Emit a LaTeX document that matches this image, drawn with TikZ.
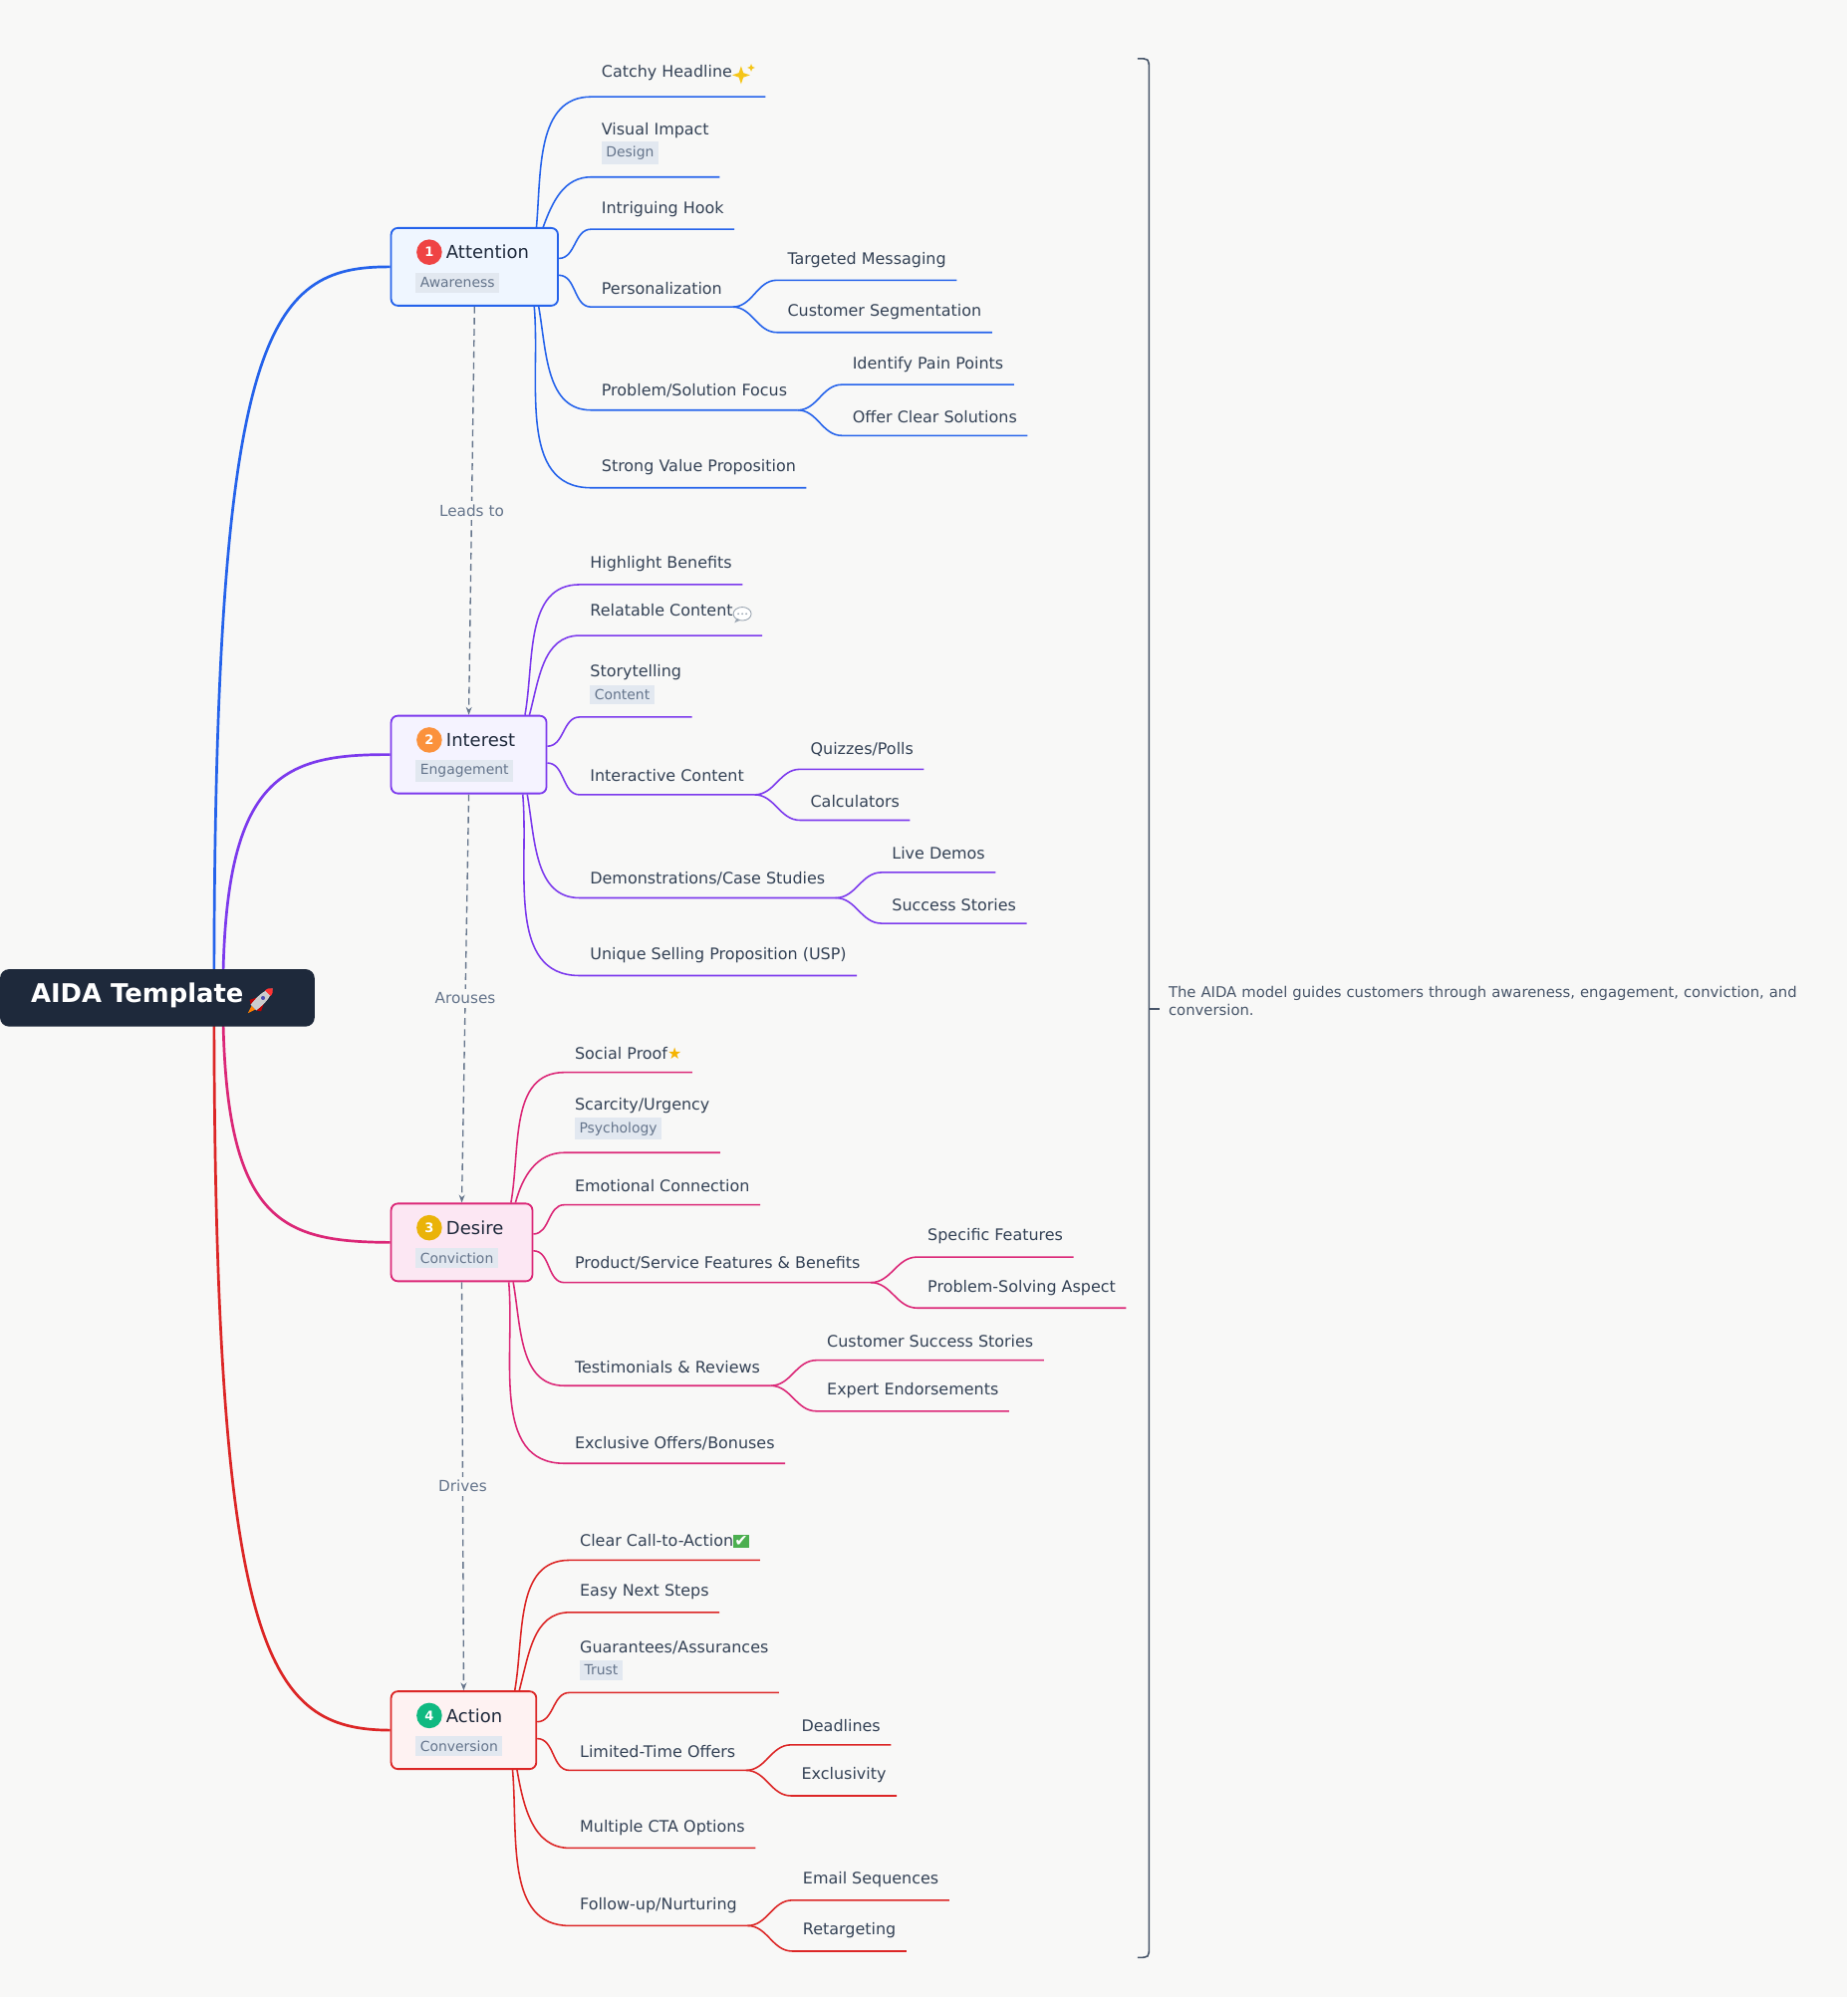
\documentclass[tikz,border=0pt]{standalone}
\usepackage{fontspec}
\setmainfont{DejaVu Sans}
\usetikzlibrary{arrows.meta}

\definecolor{bg}{HTML}{F8F8F7}
\definecolor{ink}{HTML}{334155}
\definecolor{dark}{HTML}{1E293B}
\definecolor{muted}{HTML}{64748B}
\definecolor{note}{HTML}{475569}
\definecolor{tagbg}{HTML}{E2E8F0}
\definecolor{cA}{HTML}{2563EB}
\definecolor{cI}{HTML}{7C3AED}
\definecolor{cD}{HTML}{DB2777}
\definecolor{cC}{HTML}{DC2626}
\definecolor{fA}{HTML}{EFF6FF}
\definecolor{fI}{HTML}{F5F3FF}
\definecolor{fD}{HTML}{FCE7F3}
\definecolor{fC}{HTML}{FEF2F2}
\definecolor{bdgA}{HTML}{EF4444}
\definecolor{bdgI}{HTML}{FB923C}
\definecolor{bdgD}{HTML}{EAB308}
\definecolor{bdgC}{HTML}{10B981}
\definecolor{spark}{HTML}{F5C518}
\definecolor{star}{HTML}{F5B301}
\definecolor{check}{HTML}{4CAF50}
\definecolor{bubble}{HTML}{9AA5B1}

\newcommand{\tagbox}[1]{{\fontsize{6.2}{7}\selectfont\setlength{\fboxsep}{2pt}\colorbox{tagbg}{\color{muted}#1}}}
% small drawn symbols
\newcommand{\sparkles}{\tikz[baseline=-1pt, x=1pt, y=1pt]{
  \fill[spark] (0,4) -- (1,1) -- (4,0) -- (1,-1) -- (0,-4) -- (-1,-1) -- (-4,0) -- (-1,1) -- cycle;
  \fill[spark] (4.5,5) -- (5,3.8) -- (6.2,3.3) -- (5,2.8) -- (4.5,1.6) -- (4,2.8) -- (2.8,3.3) -- (4,3.8) -- cycle;}}
\newcommand{\speech}{\tikz[baseline=-1pt, x=1pt, y=1pt]{
  \filldraw[fill=white, draw=bubble, line width=0.4pt] (0,0) ellipse (4pt and 3pt);
  \fill[bubble] (-2.5,-2) -- (-3.5,-4) -- (-0.8,-2.8) -- cycle;
  \foreach \dx in {-1.8,0,1.8} \fill[bubble] (\dx,0) circle (0.45pt);}}
\newcommand{\rocket}{\tikz[baseline=-1pt, x=1.2pt, y=1.2pt, rotate=-45]{
  \fill[red!75!black] (-3,-3) -- (-1.5,0) -- (-1.5,-4) -- cycle;
  \fill[red!75!black] (3,-3) -- (1.5,0) -- (1.5,-4) -- cycle;
  \fill[orange] (-1,-4) -- (0,-7) -- (1,-4) -- cycle;
  \fill[gray!40] (0,6) .. controls (2.2,3) and (1.8,-1) .. (1.5,-4) -- (-1.5,-4) .. controls (-1.8,-1) and (-2.2,3) .. (0,6);
  \fill[red!80] (0,6) .. controls (1.2,5) .. (1.5,3.5) -- (-1.5,3.5) .. controls (-1.2,5) .. (0,6);
  \fill[blue!40!gray] (0,1) circle (0.9pt);}}

\tikzset{
  leaf/.style={anchor=south west, inner xsep=4.5pt, inner ysep=5.5pt, text=ink, font=\fontsize{7.1}{9}\selectfont, align=left},
  stage/.style={draw=#1, line width=0.8pt, rounded corners=3pt, minimum height=1.22cm},
  badge/.style={circle, fill=#1, text=white, inner sep=0pt, minimum size=0.4cm, font=\bfseries\fontsize{5.8}{6}\selectfont},
  title/.style={anchor=west, inner sep=0pt, text=dark, font=\fontsize{8}{9}\selectfont},
  tag/.style={anchor=west, inner sep=0pt},
  branch/.style={draw=#1, line width=0.7pt},
  trunk/.style={draw=#1, line width=1.2pt},
  flow/.style={draw=muted, line width=0.6pt, dash pattern=on 3pt off 2pt, -{Stealth[length=3.5pt]}},
  lbl/.style={fill=bg, inner sep=1.5pt, text=muted, font=\fontsize{6.8}{7}\selectfont},
}

\begin{document}
\begin{tikzpicture}[x=0.02cm, y=-0.02cm]
  \fill[bg] (0,0) rectangle (1450,1568);
  \useasboundingbox (0,0) rectangle (1450,1568);

  % stage boxes
  \node[stage=cA, fill=fA, minimum width=2.62cm] (att) at (372.5,209.5) {};
  \node[stage=cI, fill=fI, minimum width=2.44cm] (int) at (368,592.5) {};
  \node[stage=cD, fill=fD, minimum width=2.22cm] (des) at (362.5,975.5) {};
  \node[stage=cC, fill=fC, minimum width=2.28cm] (act) at (364,1358.5) {};

  \node[badge=bdgA] (b1) at (337,198) {1};
  \node[title] (t1) at (350,198) {Attention};
  \node[tag] (g1) at (326,222) {\tagbox{Awareness}};
  \node[badge=bdgI] (b2) at (337,581) {2};
  \node[title] (t2) at (350,581) {Interest};
  \node[tag] (g2) at (326,605) {\tagbox{Engagement}};
  \node[badge=bdgD] (b3) at (337,964) {3};
  \node[title] (t3) at (350,964) {Desire};
  \node[tag] (g3) at (326,988) {\tagbox{Conviction}};
  \node[badge=bdgC] (b4) at (337,1347) {4};
  \node[title] (t4) at (350,1347) {Action};
  \node[tag] (g4) at (326,1371) {\tagbox{Conversion}};

  % trunk
  \coordinate (hub) at (168,783);
  \coordinate (hub2) at (175,783);
  \draw[trunk=cA] (hub) .. controls (168,260) and (210,209) .. (att.west);
  \draw[trunk=cI] (hub2) .. controls (175,610) and (220,592) .. (int.west);
  \draw[trunk=cD] (hub2) .. controls (175,960) and (220,975) .. (des.west);
  \draw[trunk=cC] (hub) .. controls (168,1300) and (210,1358) .. (act.west);
  \node[fill=dark, rounded corners=4pt, minimum width=4.94cm, minimum height=0.9cm] (root) at (123.5,783.5) {};
  \node[anchor=west, inner sep=0pt, text=white, font=\bfseries\fontsize{11.5}{12}\selectfont] (rootlbl) at (24,783.5)
    {AIDA Template\,\rocket};

  % flow between stages
  \draw[flow] (att.south) -- node[lbl, pos=0.5] {Leads to} (int.north);
  \draw[flow] (int.south) -- node[lbl, pos=0.5] {Arouses} (des.north);
  \draw[flow] (des.south) -- node[lbl, pos=0.5] {Drives} (act.north);

  % Attention
  \node[leaf] (a1) at (464,76) {Catchy Headline\sparkles};
  \node[leaf] (a2) at (464,139) {Visual Impact\\[1pt]\tagbox{Design}};
  \node[leaf] (a3) at (464,180) {Intriguing Hook};
  \node[leaf] (a4) at (464,241) {Personalization};
  \node[leaf] (a41) at (610,220) {Targeted Messaging};
  \node[leaf] (a42) at (610,261) {Customer Segmentation};
  \node[leaf] (a5) at (464,322) {Problem/Solution Focus};
  \node[leaf] (a51) at (661,302) {Identify Pain Points};
  \node[leaf] (a52) at (661,342) {Offer Clear Solutions};
  \node[leaf] (a6) at (464,383) {Strong Value Proposition};
  \draw[branch=cA] ([xshift=-10]att.north east) to[out=85, in=180] (a1.south west) -- (a1.south east);
  \draw[branch=cA] ([xshift=-7]att.north east) to[out=70, in=180] (a2.south west) -- (a2.south east);
  \draw[branch=cA] ([yshift=-14]att.north east) to[out=0, in=180] (a3.south west) -- (a3.south east);
  \draw[branch=cA] ([yshift=14]att.south east) to[out=0, in=180] (a4.south west) -- (a4.south east);
  \draw[branch=cA] ([xshift=-9]att.south east) to[out=-80, in=180] (a5.south west) -- (a5.south east);
  \draw[branch=cA] ([xshift=-11]att.south east) to[out=-85, in=180] (a6.south west) -- (a6.south east);
  \draw[branch=cA] (a4.south east) to[out=0, in=180] (a41.south west) -- (a41.south east);
  \draw[branch=cA] (a4.south east) to[out=0, in=180] (a42.south west) -- (a42.south east);
  \draw[branch=cA] (a5.south east) to[out=0, in=180] (a51.south west) -- (a51.south east);
  \draw[branch=cA] (a5.south east) to[out=0, in=180] (a52.south west) -- (a52.south east);

  % Interest
  \node[leaf] (i1) at (455,459) {Highlight Benefits};
  \node[leaf] (i2) at (455,499) {Relatable Content\speech};
  \node[leaf] (i3) at (455,563) {Storytelling\\[1pt]\tagbox{Content}\hspace{1.6em}};
  \node[leaf] (i4) at (455,624) {Interactive Content};
  \node[leaf] (i41) at (628,604) {Quizzes/Polls};
  \node[leaf] (i42) at (628,644) {Calculators};
  \node[leaf] (i5) at (455,705) {Demonstrations/Case Studies};
  \node[leaf] (i51) at (692,685) {Live Demos};
  \node[leaf] (i52) at (692,725) {Success Stories};
  \node[leaf] (i6) at (455,766) {Unique Selling Proposition (USP)};
  \draw[branch=cI] ([xshift=-10]int.north east) to[out=80, in=180] (i1.south west) -- (i1.south east);
  \draw[branch=cI] ([xshift=-8]int.north east) to[out=75, in=180] (i2.south west) -- (i2.south east);
  \draw[branch=cI] ([yshift=-14]int.north east) to[out=0, in=180] (i3.south west) -- (i3.south east);
  \draw[branch=cI] ([yshift=14]int.south east) to[out=0, in=180] (i4.south west) -- (i4.south east);
  \draw[branch=cI] ([xshift=-9]int.south east) to[out=-80, in=180] (i5.south west) -- (i5.south east);
  \draw[branch=cI] ([xshift=-11]int.south east) to[out=-85, in=180] (i6.south west) -- (i6.south east);
  \draw[branch=cI] (i4.south east) to[out=0, in=180] (i41.south west) -- (i41.south east);
  \draw[branch=cI] (i4.south east) to[out=0, in=180] (i42.south west) -- (i42.south east);
  \draw[branch=cI] (i5.south east) to[out=0, in=180] (i51.south west) -- (i51.south east);
  \draw[branch=cI] (i5.south east) to[out=0, in=180] (i52.south west) -- (i52.south east);

  % Desire
  \node[leaf] (d1) at (443,842) {Social Proof{\color{star}★}};
  \node[leaf] (d2) at (443,905) {Scarcity/Urgency\\[1pt]\tagbox{Psychology}};
  \node[leaf] (d3) at (443,946) {Emotional Connection};
  \node[leaf] (d4) at (443,1007) {Product/Service Features \& Benefits};
  \node[leaf] (d41) at (720,987) {Specific Features};
  \node[leaf] (d42) at (720,1027) {Problem-Solving Aspect};
  \node[leaf] (d5) at (443,1088) {Testimonials \& Reviews};
  \node[leaf] (d51) at (641,1068) {Customer Success Stories};
  \node[leaf] (d52) at (641,1108) {Expert Endorsements};
  \node[leaf] (d6) at (443,1149) {Exclusive Offers/Bonuses};
  \draw[branch=cD] ([xshift=-10]des.north east) to[out=80, in=180] (d1.south west) -- (d1.south east);
  \draw[branch=cD] ([xshift=-8]des.north east) to[out=75, in=180] (d2.south west) -- (d2.south east);
  \draw[branch=cD] ([yshift=-14]des.north east) to[out=0, in=180] (d3.south west) -- (d3.south east);
  \draw[branch=cD] ([yshift=14]des.south east) to[out=0, in=180] (d4.south west) -- (d4.south east);
  \draw[branch=cD] ([xshift=-9]des.south east) to[out=-80, in=180] (d5.south west) -- (d5.south east);
  \draw[branch=cD] ([xshift=-11]des.south east) to[out=-85, in=180] (d6.south west) -- (d6.south east);
  \draw[branch=cD] (d4.south east) to[out=0, in=180] (d41.south west) -- (d41.south east);
  \draw[branch=cD] (d4.south east) to[out=0, in=180] (d42.south west) -- (d42.south east);
  \draw[branch=cD] (d5.south east) to[out=0, in=180] (d51.south west) -- (d51.south east);
  \draw[branch=cD] (d5.south east) to[out=0, in=180] (d52.south west) -- (d52.south east);

  % Action
  \node[leaf] (c1) at (447,1225) {Clear Call-to-Action{\setlength{\fboxsep}{0.6pt}\colorbox{check}{\color{white}✔}}};
  \node[leaf] (c2) at (447,1266) {Easy Next Steps};
  \node[leaf] (c3) at (447,1329) {Guarantees/Assurances\\[1pt]\tagbox{Trust}};
  \node[leaf] (c4) at (447,1390) {Limited-Time Offers};
  \node[leaf] (c41) at (621,1370) {Deadlines};
  \node[leaf] (c42) at (621,1410) {Exclusivity};
  \node[leaf] (c5) at (447,1451) {Multiple CTA Options};
  \node[leaf] (c6) at (447,1512) {Follow-up/Nurturing};
  \node[leaf] (c61) at (622,1492) {Email Sequences};
  \node[leaf] (c62) at (622,1532) {Retargeting};
  \draw[branch=cC] ([xshift=-10]act.north east) to[out=80, in=180] (c1.south west) -- (c1.south east);
  \draw[branch=cC] ([xshift=-8]act.north east) to[out=75, in=180] (c2.south west) -- (c2.south east);
  \draw[branch=cC] ([yshift=-14]act.north east) to[out=0, in=180] (c3.south west) -- (c3.south east);
  \draw[branch=cC] ([yshift=14]act.south east) to[out=0, in=180] (c4.south west) -- (c4.south east);
  \draw[branch=cC] ([xshift=-9]act.south east) to[out=-80, in=180] (c5.south west) -- (c5.south east);
  \draw[branch=cC] ([xshift=-11]act.south east) to[out=-85, in=180] (c6.south west) -- (c6.south east);
  \draw[branch=cC] (c4.south east) to[out=0, in=180] (c41.south west) -- (c41.south east);
  \draw[branch=cC] (c4.south east) to[out=0, in=180] (c42.south west) -- (c42.south east);
  \draw[branch=cC] (c6.south east) to[out=0, in=180] (c61.south west) -- (c61.south east);
  \draw[branch=cC] (c6.south east) to[out=0, in=180] (c62.south west) -- (c62.south east);

  % summary bracket
  \coordinate (brtop) at (893,46);
  \coordinate (brbot) at (893,1537);
  \coordinate (brmid) at (902,792);
  \node[anchor=north west, text width=10.3cm, inner sep=0pt, text=note, font=\fontsize{6.6}{8}\selectfont] (sum) at (917,774)
    {The AIDA model guides customers through awareness, engagement, conviction, and conversion.};
  \draw[draw=note, line width=0.7pt] (brtop) .. controls (902,46) .. (902,55) -- (902,1528) .. controls (902,1537) .. (brbot);
  \draw[draw=note, line width=0.7pt] (brmid) -- ++(8,0);
\end{tikzpicture}
\end{document}
